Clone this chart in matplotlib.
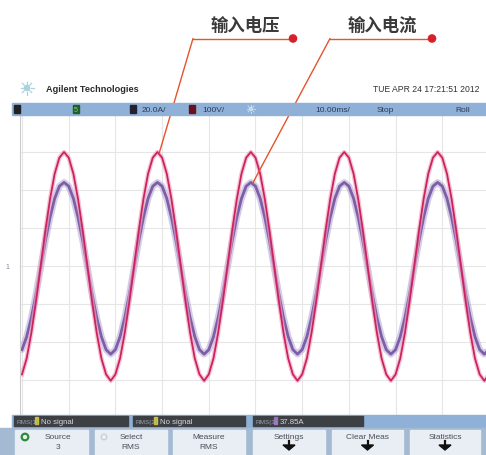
import numpy as np
import matplotlib
matplotlib.use("Agg")
import matplotlib.pyplot as plt
from matplotlib.patches import Rectangle, Circle, Polygon

plt.rcParams['font.family'] = ['Liberation Sans', 'DejaVu Sans']

# time axis in ms (10 ms per division), samples read every 1 ms
time_ms = list(range(0, 101))

# voltage trace, in divisions (100 V/div)
voltage = [
    -2.85, -2.43, -1.76, -0.93, 0.00, 0.93, 1.76, 2.43, 2.85, 3.00,
    2.85, 2.43, 1.76, 0.93, 0.00, -0.93, -1.76, -2.43, -2.85, -3.02,
    -2.85, -2.43, -1.76, -0.93, 0.00, 0.93, 1.76, 2.43, 2.85, 3.00,
    2.85, 2.43, 1.76, 0.93, 0.00, -0.93, -1.76, -2.43, -2.85, -3.02,
    -2.85, -2.43, -1.76, -0.93, 0.00, 0.93, 1.76, 2.43, 2.85, 3.00,
    2.85, 2.43, 1.76, 0.93, 0.00, -0.93, -1.76, -2.43, -2.85, -3.02,
    -2.85, -2.43, -1.76, -0.93, 0.00, 0.93, 1.76, 2.43, 2.85, 3.00,
    2.85, 2.43, 1.76, 0.93, 0.00, -0.93, -1.76, -2.43, -2.85, -3.02,
    -2.85, -2.43, -1.76, -0.93, 0.00, 0.93, 1.76, 2.43, 2.85, 3.00,
    2.85, 2.43, 1.76, 0.93, 0.00, -0.93, -1.76, -2.43, -2.85, -3.02,
    -2.85,
]

# current trace, in divisions
current = [
    -2.20, -1.86, -1.36, -0.74, -0.04, 0.66, 1.28, 1.78, 2.10, 2.20,
    2.10, 1.78, 1.28, 0.66, -0.04, -0.74, -1.36, -1.86, -2.20, -2.32,
    -2.20, -1.86, -1.36, -0.74, -0.04, 0.66, 1.28, 1.78, 2.10, 2.20,
    2.10, 1.78, 1.28, 0.66, -0.04, -0.74, -1.36, -1.86, -2.20, -2.32,
    -2.20, -1.86, -1.36, -0.74, -0.04, 0.66, 1.28, 1.78, 2.10, 2.20,
    2.10, 1.78, 1.28, 0.66, -0.04, -0.74, -1.36, -1.86, -2.20, -2.32,
    -2.20, -1.86, -1.36, -0.74, -0.04, 0.66, 1.28, 1.78, 2.10, 2.20,
    2.10, 1.78, 1.28, 0.66, -0.04, -0.74, -1.36, -1.86, -2.20, -2.32,
    -2.20, -1.86, -1.36, -0.74, -0.04, 0.66, 1.28, 1.78, 2.10, 2.20,
    2.10, 1.78, 1.28, 0.66, -0.04, -0.74, -1.36, -1.86, -2.20, -2.32,
    -2.20,
]

labels = ["输入电压", "输入电流"]
label_peak_idx = [29, 49]   # which peak each callout points at
meas_texts = ["No signal", "No signal", "37.85A"]
meas_heads = ["RMS(1)", "RMS(2)", "RMS(3)"]
softkeys = [("Source", "3"), ("Select", "RMS"), ("Measure", "RMS"),
            ("Settings", ""), ("Clear Meas", ""), ("Statistics", "")]
header_bits = ["20.0A/", "100V/", "10.00ms/", "Stop", "Roll"]

W, H = 486, 456
fig = plt.figure(figsize=(W / 100, H / 100), dpi=100)
fig.patch.set_facecolor("white")

# scope screen
ax = fig.add_axes([20 / W, 1 - 416 / H, 466 / W, 301 / H], zorder=1)
ax.set_xlim(-0.43, 99.36)
ax.set_ylim(-3.92, 4.0)
ax.set_xticks(np.arange(0, 100, 10))
ax.set_yticks(np.arange(-3, 5, 1))
ax.grid(True, color="#e6e6e6", lw=0.8)
ax.tick_params(length=0, labelbottom=False, labelleft=False)
for s in ["top", "right", "bottom"]:
    ax.spines[s].set_visible(False)
ax.spines["left"].set_color("#cccccc")

ax.plot(time_ms, current, color="#b3a2d2", lw=4.8, alpha=0.55, solid_capstyle="round")
ax.plot(time_ms, current, color="#7d5ea8", lw=2.0)
ax.plot(time_ms, voltage, color="#f0a6c0", lw=3.2, alpha=0.65)
ax.plot(time_ms, voltage, color="#cc2260", lw=1.3)

# overlay in pixel coordinates for the instrument chrome
ov = fig.add_axes([0, 0, 1, 1], zorder=2)
ov.set_xlim(0, W)
ov.set_ylim(H, 0)
ov.axis("off")
ov.patch.set_alpha(0)

# logo + date
ov.add_patch(Circle((27, 89), 2.6, color="#a9d3de"))
for a in np.deg2rad(np.arange(0, 360, 45)):
    ov.plot([27 + 4 * np.cos(a), 27 + 6.5 * np.cos(a)],
            [89 + 4 * np.sin(a), 89 + 6.5 * np.sin(a)], color="#a9d3de", lw=0.9)
ov.text(46, 90, "Agilent Technologies", fontsize=6.6, fontweight="bold",
        color="#2a2a2a", va="center")
ov.text(479, 90, "TUE APR 24 17:21:51 2012", fontsize=6.2, color="#333333",
        va="center", ha="right")

# header bar
ov.add_patch(Rectangle((12, 104), W - 12, 12, color="#8fb1d8"))
for x0, c in [(14, "#222222"), (73, "#1f5f2a"), (130, "#222233"), (189, "#6a1020")]:
    ov.add_patch(Rectangle((x0, 106), 6, 8, color=c))
ov.text(75.8, 110.5, "5", fontsize=5, color="#8fd080", ha="center", va="center")
hdr_x = [142, 202, 315, 377, 455]
for x0, t in zip(hdr_x, header_bits):
    ov.text(x0, 110.5, t, fontsize=6.0, color="#2d3a55", va="center")
ov.add_patch(Circle((251, 110), 1.6, color="#c6dce8"))
for a in np.deg2rad(np.arange(0, 360, 45)):
    ov.plot([251 + 2.6 * np.cos(a), 251 + 4.2 * np.cos(a)],
            [110 + 2.6 * np.sin(a), 110 + 4.2 * np.sin(a)], color="#c6dce8", lw=0.7)

# ground marker
ov.text(7, 268, "1", fontsize=5, color="#7a8aa0", va="center", ha="center")

# measurement row
ov.add_patch(Rectangle((12, 416), W - 12, 13, color="#8fb1d8"))
for (x0, x1), head, txt, cc in zip([(14, 128), (133, 245), (253, 363)],
                                   meas_heads, meas_texts,
                                   ["#c8c040", "#c8c040", "#9a70c0"]):
    ov.add_patch(Rectangle((x0, 417), x1 - x0, 10, color="#3c3f44"))
    ov.text(x0 + 2, 422.3, head, fontsize=4.6, color="#9aa0a8", va="center")
    ov.add_patch(Rectangle((x0 + 21, 418.5), 3, 7, color=cc))
    ov.text(x0 + 27, 422.3, txt, fontsize=5.6, color="#d8d8d8", va="center")

# softkeys
ov.add_patch(Rectangle((0, 429), W, H - 429, color="#a3bad2"))
keys_x = [(15, 88), (95, 167), (173, 245), (253, 325), (332, 403), (410, 480)]
for (x0, x1), (l1, l2) in zip(keys_x, softkeys):
    ov.add_patch(Rectangle((x0, 431), x1 - x0, H - 431, color="#e9eef4"))
    xc = (x0 + x1) / 2
    dx = 6 if l1 == "Source" else 0
    ov.text(xc + dx, 437.5, l1, fontsize=6.0, color="#4a4f58", ha="center", va="center")
    if l2:
        ov.text(xc + dx, 448, l2, fontsize=6.0, color="#4a4f58", ha="center", va="center")
    else:
        ov.add_patch(Polygon([[xc - 6, 446], [xc + 6, 446], [xc, 451]], color="#111111"))
        ov.plot([xc, xc], [442, 447], color="#111111", lw=1.6)
ov.add_patch(Circle((25, 438), 3.3, fill=False, ec="#2f8a3a", lw=1.6))
ov.add_patch(Circle((104, 438), 2.8, fill=False, ec="#c8ccd2", lw=0.9))

# callouts
label_x = [245, 382]
line_x = [(193, 293), (330, 432)]
for lab, lx, (xa, xb), idx in zip(labels, label_x, line_x, label_peak_idx):
    ov.text(lx, 26, lab, fontsize=12.5, family=["Noto Sans CJK SC"],
            fontweight="bold", color="#3a3a3a", ha="center", va="center")
    ov.plot([xa, xb], [39.5, 39.5], color="#e5542c", lw=1.0)
    ov.add_patch(Circle((xb, 39.5), 3.6, color="#d8202c", zorder=5))
    ys = voltage if idx == label_peak_idx[0] else current
    ax.annotate("", xy=(time_ms[idx] + 0.4, ys[idx] - 0.02), xycoords="data",
                xytext=(xa, 39.5), textcoords=ov.transData,
                arrowprops=dict(arrowstyle="-", color="#e5542c", lw=1.0,
                                shrinkA=0, shrinkB=0), annotation_clip=False)

fig.savefig("out.png", dpi=100)
